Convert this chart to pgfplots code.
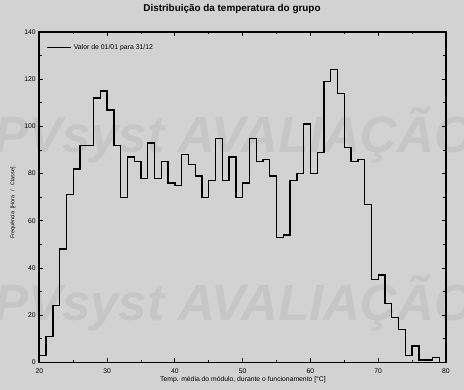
\documentclass[border=0pt]{standalone}
\usepackage{fontspec}
\setmainfont{Liberation Sans}
\usepackage{pgfplots}
\pgfplotsset{compat=1.18}
\definecolor{bg}{HTML}{D2D2D2}
\definecolor{wm}{HTML}{C6C6C6}
\begin{document}
\begin{tikzpicture}[x=1pt,y=1pt]
\useasboundingbox (0,0) rectangle (464,390);
\fill[bg] (0,0) rectangle (464,390);
\node[text=wm, font=\fontsize{51}{51}\selectfont\bfseries\itshape, anchor=base west, inner sep=0pt] at (-6,237) {PVsyst AVALIAÇÃO};
\node[text=wm, font=\fontsize{51}{51}\selectfont\bfseries\itshape, anchor=base west, inner sep=0pt] at (-6,69) {PVsyst AVALIAÇÃO};
\begin{axis}[at={(39.3pt,27.6pt)}, anchor=south west, scale only axis,
  width=406.7pt, height=330.4pt,
  xmin=20, xmax=80, ymin=0, ymax=140,
  xtick={20,30,...,80}, minor xtick={25,35,...,75},
  ytick={0,20,...,140}, minor ytick={10,30,...,130},
  tick align=inside, major tick length=4pt, minor tick length=2.5pt,
  axis line style={line width=1.6pt},
  tick style={line width=0.8pt, black},
  clip=false,
  /pgf/number format/assume math mode=true,
  ticklabel style={font=\fontsize{6.8}{8}\selectfont},
  xticklabel style={yshift=-2.7pt},
  legend style={at={(axis description cs:0,1)}, anchor=north west, draw=none, fill=none,
    xshift=4pt, yshift=-8pt, font=\fontsize{6.9}{8}\selectfont, legend cell align=left},
  legend image code/.code={\draw[#1] (0pt,0pt) -- (24pt,0pt);},
]
\addplot[const plot, line width=1.3pt, black] coordinates {
(20,0)(20,3)(21,11)(22,24)(23,48)(24,71)(25,82)(26,92)(27,92)(28,112)(29,115)
(30,107)(31,92)(32,70)(33,87)(34,85)(35,78)(36,93)(37,78)(38,85)(39,76)
(40,75)(41,88)(42,84)(43,79)(44,70)(45,77)(46,95)(47,77)(48,87)(49,70)
(50,76)(51,95)(52,85)(53,86)(54,79)(55,53)(56,54)(57,77)(58,80)(59,101)
(60,80)(61,89)(62,119)(63,124)(64,114)(65,91)(66,85)(67,86)(68,67)(69,35)
(70,37)(71,25)(72,19)(73,14)(74,3)(75,7)(76,1)(77,1)(78,2)(79,0)(80,0)};
\addlegendentry{Valor de 01/01 para 31/12}
\end{axis}
\node[font=\fontsize{9.9}{11}\selectfont\bfseries] at (232,381) {Distribuição da temperatura do grupo};
\node[font=\fontsize{6.8}{8}\selectfont] at (243,10) {Temp. média do módulo, durante o funcionamento [°C]};
\node[font=\fontsize{5.4}{6}\selectfont, rotate=90] at (13,187) {Frequência\ \ [Hora\ \ \ /\ \ \ Classe]};
\end{tikzpicture}
\end{document}
